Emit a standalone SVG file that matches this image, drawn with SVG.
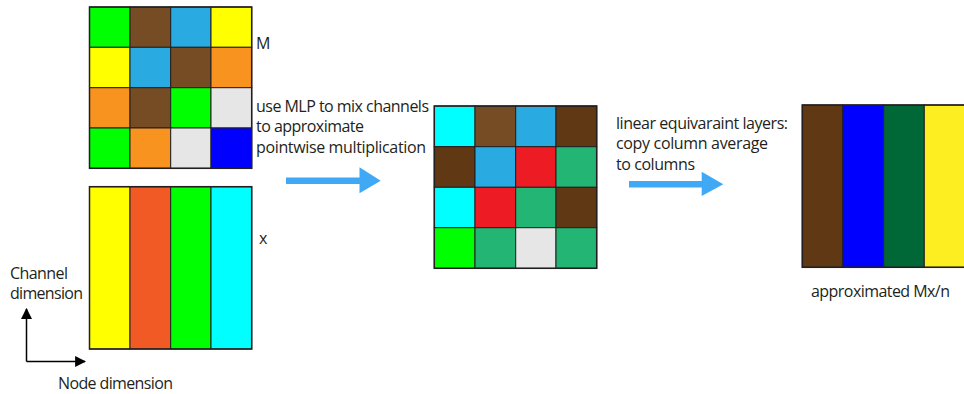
<svg xmlns="http://www.w3.org/2000/svg" width="964" height="394" viewBox="0 0 964 394">
<style>
text{font-family:"Open Sans","Liberation Sans",Arial,sans-serif;font-size:16px;fill:#231f20}
.c{stroke:#231f20;stroke-width:1}
.bd{fill:none;stroke:#231f20;stroke-width:1.5}
.ar{fill:#3fa9f5}
.ax{stroke:#000;stroke-width:1.5;fill:none}
</style>
<defs>
<marker id="ah" viewBox="0 0 10 10" refX="9" refY="5" markerWidth="11" markerHeight="11" markerUnits="userSpaceOnUse" orient="auto"><path d="M0,0L10,5L0,10z" fill="#000"/></marker>
</defs>
<rect width="964" height="394" fill="#fff"/>
<g id="matrix-M">
<rect class="c" x="89.5" y="7" width="40.5" height="40.3" fill="#00ff00"/>
<rect class="c" x="130" y="7" width="40.7" height="40.3" fill="#754c24"/>
<rect class="c" x="170.7" y="7" width="40.3" height="40.3" fill="#29abe2"/>
<rect class="c" x="211" y="7" width="40.7" height="40.3" fill="#ffff00"/>
<rect class="c" x="89.5" y="47.3" width="40.5" height="40.4" fill="#ffff00"/>
<rect class="c" x="130" y="47.3" width="40.7" height="40.4" fill="#29abe2"/>
<rect class="c" x="170.7" y="47.3" width="40.3" height="40.4" fill="#754c24"/>
<rect class="c" x="211" y="47.3" width="40.7" height="40.4" fill="#f7931e"/>
<rect class="c" x="89.5" y="87.7" width="40.5" height="40.3" fill="#f7931e"/>
<rect class="c" x="130" y="87.7" width="40.7" height="40.3" fill="#754c24"/>
<rect class="c" x="170.7" y="87.7" width="40.3" height="40.3" fill="#00ff00"/>
<rect class="c" x="211" y="87.7" width="40.7" height="40.3" fill="#e6e6e6"/>
<rect class="c" x="89.5" y="128" width="40.5" height="40.3" fill="#00ff00"/>
<rect class="c" x="130" y="128" width="40.7" height="40.3" fill="#f7931e"/>
<rect class="c" x="170.7" y="128" width="40.3" height="40.3" fill="#e6e6e6"/>
<rect class="c" x="211" y="128" width="40.7" height="40.3" fill="#0000ff"/>
<rect class="bd" x="89.5" y="7" width="162.2" height="161.3"/>
<text x="256" y="49">M</text>
</g>
<g id="matrix-x">
<rect class="c" x="89.5" y="186.7" width="40.5" height="162.3" fill="#ffff00"/>
<rect class="c" x="130" y="186.7" width="40.7" height="162.3" fill="#f15a24"/>
<rect class="c" x="170.7" y="186.7" width="40.3" height="162.3" fill="#00ff00"/>
<rect class="c" x="211" y="186.7" width="40.7" height="162.3" fill="#00ffff"/>
<rect class="bd" x="89.5" y="186.7" width="162.2" height="162.3"/>
<text x="259" y="244">x</text>
</g>
<g id="axes">
<text x="10" y="279" textLength="58">Channel</text>
<text x="10" y="299" textLength="73">dimension</text>
<text x="58" y="389" textLength="115">Node dimension</text>
</g>
<g id="matrix-product">
<rect class="c" x="434.3" y="106" width="40.7" height="40.7" fill="#00ffff"/>
<rect class="c" x="475" y="106" width="40.7" height="40.7" fill="#754c24"/>
<rect class="c" x="515.7" y="106" width="40.3" height="40.7" fill="#29abe2"/>
<rect class="c" x="556" y="106" width="40.7" height="40.7" fill="#603813"/>
<rect class="c" x="434.3" y="146.7" width="40.7" height="40.6" fill="#603813"/>
<rect class="c" x="475" y="146.7" width="40.7" height="40.6" fill="#29abe2"/>
<rect class="c" x="515.7" y="146.7" width="40.3" height="40.6" fill="#ed1c24"/>
<rect class="c" x="556" y="146.7" width="40.7" height="40.6" fill="#22b573"/>
<rect class="c" x="434.3" y="187.3" width="40.7" height="40.4" fill="#00ffff"/>
<rect class="c" x="475" y="187.3" width="40.7" height="40.4" fill="#ed1c24"/>
<rect class="c" x="515.7" y="187.3" width="40.3" height="40.4" fill="#22b573"/>
<rect class="c" x="556" y="187.3" width="40.7" height="40.4" fill="#603813"/>
<rect class="c" x="434.3" y="227.7" width="40.7" height="40.6" fill="#00ff00"/>
<rect class="c" x="475" y="227.7" width="40.7" height="40.6" fill="#22b573"/>
<rect class="c" x="515.7" y="227.7" width="40.3" height="40.6" fill="#e6e6e6"/>
<rect class="c" x="556" y="227.7" width="40.7" height="40.6" fill="#22b573"/>
<rect class="bd" x="434.3" y="106" width="162.4" height="162.3"/>
</g>
<g id="matrix-result">
<rect class="c" x="802.3" y="105" width="40.4" height="162.3" fill="#603813"/>
<rect class="c" x="842.7" y="105" width="41" height="162.3" fill="#0000ff"/>
<rect class="c" x="883.7" y="105" width="40.6" height="162.3" fill="#006837"/>
<rect class="c" x="924.3" y="105" width="41" height="162.3" fill="#fcee21"/>
<rect class="bd" x="802.3" y="105" width="163" height="162.3"/>
<text x="811" y="297" textLength="139">approximated Mx/n</text>
</g>
<g id="connectors">
<path class="ax" d="M26.5,361.5V309" marker-end="url(#ah)"/>
<path class="ax" d="M26.5,361.5H85" marker-end="url(#ah)"/>
<path class="ar" d="M286,177.5H359.5V167.3L380.7,180.7L359.5,193.3V184H286z"/>
<path class="ar" d="M629,181H701.7V171.7L723.3,184.3L701.7,196V187.6H629z"/>
<text x="256" y="111.5" textLength="173">use MLP to mix channels</text>
<text x="256" y="132" textLength="108">to approximate</text>
<text x="256" y="152.5" textLength="170">pointwise multiplication</text>
<text x="616" y="128.5" textLength="172">linear equivaraint layers:</text>
<text x="616" y="149" textLength="152">copy column average</text>
<text x="616" y="169.5" textLength="79">to columns</text>
</g>
</svg>
